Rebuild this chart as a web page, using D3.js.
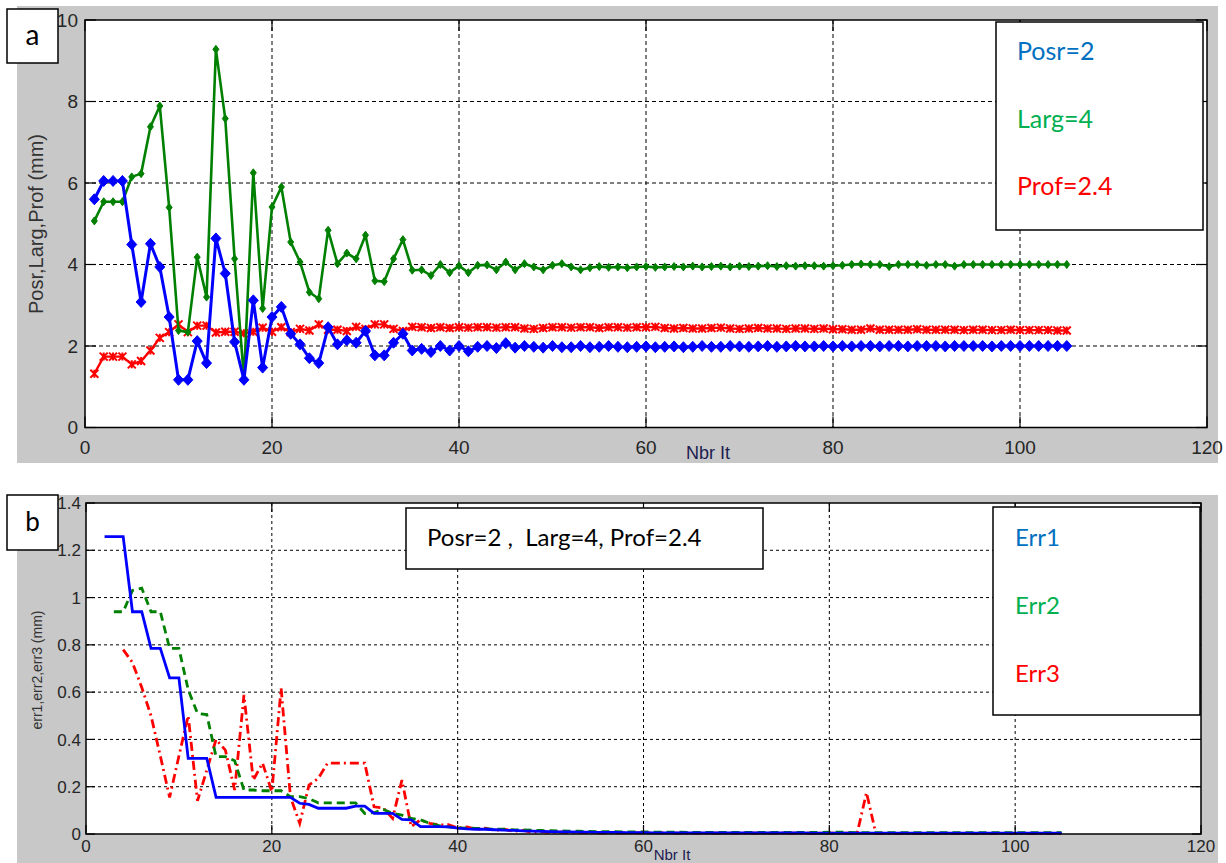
<!DOCTYPE html>
<html>
<head>
<meta charset="utf-8">
<script src="https://cdn.jsdelivr.net/npm/d3@7"></script>
<style>
  body { margin: 0; background: #ffffff; }
  svg { display: block; }
  text { font-family: "Liberation Sans", Arial, sans-serif; }
  .note { font-family: Lato, "Open Sans", "Liberation Sans", sans-serif; }
</style>
</head>
<body>
<svg id="fig" width="1226" height="863"></svg>
<script>
// ---------- Panel (a): parameter estimates per iteration ----------
const iterA = d3.range(1, 106);           // iterations 1..105

const posr = [5.6, 6.05, 6.05, 6.05, 4.49, 3.08, 4.51, 3.94, 2.71, 1.17,
  1.17, 2.12, 1.58, 4.64, 3.78, 2.1, 1.17, 3.12, 1.47, 2.71,
  2.96, 2.3, 2.04, 1.7, 1.58, 2.46, 2.04, 2.14, 2.08, 2.37,
  1.77, 1.77, 2.08, 2.3, 1.89, 1.93, 1.85, 2.0, 1.89, 2.0,
  1.87, 1.98, 2.0, 1.95, 2.07, 1.96, 2.0, 1.98, 1.96, 2.0,
  1.97, 1.97, 2.0, 1.97, 1.98, 2.0, 1.98, 1.97, 1.98, 1.99,
  1.97, 1.98, 1.99, 1.97, 1.98, 2.0, 1.98, 1.98, 2.0, 1.99,
  1.98, 1.99, 2.0, 1.98, 1.99, 2.0, 1.99, 1.99, 2.0, 1.99,
  2.0, 1.99, 2.0, 2.0, 1.99, 2.0, 2.0, 1.99, 2.0, 2.0,
  2.0, 1.99, 2.0, 2.0, 2.0, 2.0, 1.99, 2.0, 2.0, 2.0,
  2.0, 2.0, 2.0, 2.0, 2.0];

const larg = [5.07, 5.54, 5.54, 5.54, 6.15, 6.23, 7.38, 7.89, 5.4, 2.38,
  2.34, 4.18, 3.2, 9.28, 7.58, 4.14, 1.2, 6.25, 2.92, 5.41,
  5.9, 4.55, 4.06, 3.32, 3.16, 4.84, 4.02, 4.28, 4.14, 4.72,
  3.6, 3.58, 4.14, 4.61, 3.86, 3.87, 3.73, 4.0, 3.8, 3.97,
  3.8, 3.98, 3.99, 3.87, 4.06, 3.87, 4.02, 3.94, 3.87, 3.98,
  4.02, 3.94, 3.87, 3.92, 3.95, 3.93, 3.94, 3.92, 3.94, 3.95,
  3.93, 3.94, 3.95, 3.94, 3.96, 3.94, 3.95, 3.96, 3.94, 3.96,
  3.95, 3.96, 3.97, 3.95, 3.97, 3.96, 3.97, 3.97, 3.96, 3.97,
  3.98, 4.0, 4.01, 4.0, 4.0, 3.95, 4.0, 4.0, 4.0, 3.98,
  4.0, 4.0, 3.96, 4.0, 4.0, 4.0, 4.0, 4.0, 4.0, 4.0,
  4.0, 4.0, 4.0, 4.0, 4.0];

const prof = [1.32, 1.74, 1.74, 1.74, 1.55, 1.63, 1.89, 2.2, 2.34, 2.53,
  2.34, 2.5, 2.5, 2.33, 2.35, 2.35, 2.31, 2.35, 2.45, 2.35,
  2.46, 2.34, 2.42, 2.38, 2.53, 2.4, 2.4, 2.37, 2.47, 2.42,
  2.53, 2.53, 2.42, 2.37, 2.47, 2.46, 2.44, 2.46, 2.44, 2.46,
  2.45, 2.46, 2.46, 2.45, 2.46, 2.46, 2.43, 2.42, 2.44, 2.46,
  2.46, 2.45, 2.46, 2.46, 2.44, 2.46, 2.46, 2.45, 2.46, 2.46,
  2.47, 2.44, 2.43, 2.44, 2.43, 2.43, 2.44, 2.45, 2.43, 2.42,
  2.43, 2.44, 2.43, 2.43, 2.42, 2.43, 2.43, 2.42, 2.43, 2.41,
  2.41, 2.4, 2.4, 2.43, 2.4, 2.4, 2.4, 2.4, 2.41, 2.4,
  2.4, 2.4, 2.4, 2.39, 2.4, 2.4, 2.39, 2.39, 2.4, 2.39,
  2.39, 2.39, 2.39, 2.38, 2.38];

const ticksA_x = [0, 20, 40, 60, 80, 100, 120];
const ticksA_y = [0, 2, 4, 6, 8, 10];
const legendA = ["Posr=2", "Larg=4", "Prof=2.4"];

// ---------- Panel (b): errors per iteration ----------
const iterErr1 = d3.range(2, 106);
const iterErr2 = d3.range(3, 106);
const iterErr3 = d3.range(4, 106);

const err1 = [1.258, 1.258, 1.258, 0.94, 0.94, 0.785, 0.785, 0.66, 0.66, 0.32,
  0.32, 0.32, 0.155, 0.155, 0.155, 0.155, 0.155, 0.155, 0.155, 0.155,
  0.155, 0.13, 0.125, 0.109, 0.109, 0.109, 0.109, 0.118, 0.118, 0.087,
  0.087, 0.087, 0.062, 0.06, 0.031, 0.031, 0.031, 0.03, 0.025, 0.022,
  0.02, 0.02, 0.018, 0.016, 0.015, 0.013, 0.012, 0.011, 0.01, 0.009,
  0.009, 0.008, 0.008, 0.007, 0.007, 0.007, 0.006, 0.006, 0.006, 0.005,
  0.005, 0.005, 0.005, 0.005, 0.005, 0.005, 0.005, 0.005, 0.005, 0.005,
  0.005, 0.005, 0.005, 0.005, 0.005, 0.005, 0.004, 0.004, 0.004, 0.004,
  0.004, 0.004, 0.004, 0.004, 0.004, 0.004, 0.004, 0.004, 0.004, 0.004,
  0.004, 0.004, 0.004, 0.004, 0.004, 0.004, 0.004, 0.004, 0.004, 0.004,
  0.004, 0.004, 0.004, 0.004];

const err2 = [0.94, 0.94, 1.03, 1.04, 0.94, 0.94, 0.785, 0.785, 0.61, 0.51,
  0.505, 0.327, 0.327, 0.31, 0.186, 0.186, 0.183, 0.183, 0.183, 0.158,
  0.158, 0.15, 0.132, 0.132, 0.132, 0.132, 0.132, 0.087, 0.09, 0.104,
  0.087, 0.08, 0.066, 0.06, 0.045, 0.035, 0.03, 0.026, 0.025, 0.024,
  0.022, 0.02, 0.02, 0.018, 0.017, 0.016, 0.015, 0.014, 0.013, 0.012,
  0.012, 0.011, 0.01, 0.01, 0.01, 0.009, 0.009, 0.009, 0.008, 0.008,
  0.008, 0.008, 0.007, 0.007, 0.007, 0.007, 0.007, 0.007, 0.007, 0.007,
  0.007, 0.007, 0.007, 0.007, 0.007, 0.007, 0.007, 0.008, 0.008, 0.007,
  0.006, 0.006, 0.006, 0.006, 0.006, 0.006, 0.006, 0.006, 0.006, 0.006,
  0.006, 0.006, 0.006, 0.006, 0.006, 0.006, 0.006, 0.006, 0.006, 0.006,
  0.006, 0.006, 0.006];

const err3 = [0.78, 0.725, 0.62, 0.5, 0.33, 0.155, 0.33, 0.5, 0.14, 0.27,
  0.4, 0.355, 0.186, 0.588, 0.228, 0.3, 0.179, 0.616, 0.158, 0.045,
  0.207, 0.235, 0.3, 0.3, 0.3, 0.3, 0.3, 0.115, 0.11, 0.066,
  0.228, 0.031, 0.06, 0.045, 0.038, 0.04, 0.025, 0.03, 0.02, 0.025,
  0.015, 0.02, 0.012, 0.015, 0.008, 0.01, 0.006, 0.008, 0.007, 0.006,
  0.006, 0.005, 0.005, 0.005, 0.005, 0.005, 0.005, 0.005, 0.005, 0.004,
  0.004, 0.004, 0.004, 0.004, 0.004, 0.004, 0.004, 0.004, 0.004, 0.004,
  0.004, 0.004, 0.004, 0.004, 0.004, 0.004, 0.004, 0.004, 0.004, 0.004,
  0.175, 0.003, 0.003, 0.003, 0.003, 0.003, 0.003, 0.003, 0.003, 0.003,
  0.003, 0.003, 0.003, 0.003, 0.003, 0.003, 0.003, 0.003, 0.003, 0.003,
  0.003, 0.003];

const ticksB_x = [0, 20, 40, 60, 80, 100, 120];
const ticksB_y = [0, 0.2, 0.4, 0.6, 0.8, 1, 1.2, 1.4];
const legendB = ["Err1", "Err2", "Err3"];
const noteB = "Posr=2 ,  Larg=4, Prof=2.4";

const BLUE = "#0000ff", GREEN = "#008000", RED = "#ff0000";
const TXT_BLUE = "#0070c0", TXT_GREEN = "#00b050", TXT_RED = "#ff0000";

const svg = d3.select("#fig");

// Builds one MATLAB-style axes: grey figure panel, white plot box, dashed grid, inner ticks
function makeAxes(o) {
  const g = svg.append("g");
  g.append("rect").attr("x", o.panel[0]).attr("y", o.panel[1])
    .attr("width", o.panel[2]).attr("height", o.panel[3]).attr("fill", "#c8c8c8");
  const x = d3.scaleLinear().domain(o.xDomain).range([o.left, o.right]);
  const y = d3.scaleLinear().domain(o.yDomain).range([o.bottom, o.top]);
  g.append("rect").attr("x", o.left).attr("y", o.top)
    .attr("width", o.right - o.left).attr("height", o.bottom - o.top).attr("fill", "#fff");

  // grid
  const grid = g.append("g").attr("stroke", "#000").attr("stroke-width", 1)
    .attr("stroke-dasharray", o.gridDash).attr("fill", "none");
  o.xTicks.filter(t => t > o.xDomain[0] && t < o.xDomain[1]).forEach(t =>
    grid.append("line").attr("x1", x(t)).attr("x2", x(t)).attr("y1", o.top).attr("y2", o.bottom));
  o.yTicks.filter(t => t > o.yDomain[0] && t < o.yDomain[1]).forEach(t =>
    grid.append("line").attr("x1", o.left).attr("x2", o.right).attr("y1", y(t)).attr("y2", y(t)));

  const frame = g.append("g");
  const labels = g.append("g");
  return { g, x, y, frame, labels, o };
}

function finishAxes(ax) {
  const { x, y, o } = ax;
  const f = ax.frame.raise();
  const tl = o.tickLen;
  const ticks = f.append("g").attr("stroke", "#000").attr("stroke-width", 1.2);
  o.xTicks.forEach(t => {
    ticks.append("line").attr("x1", x(t)).attr("x2", x(t)).attr("y1", o.bottom).attr("y2", o.bottom - tl);
    ticks.append("line").attr("x1", x(t)).attr("x2", x(t)).attr("y1", o.top).attr("y2", o.top + tl);
  });
  o.yTicks.forEach(t => {
    ticks.append("line").attr("x1", o.left).attr("x2", o.left + tl).attr("y1", y(t)).attr("y2", y(t));
    ticks.append("line").attr("x1", o.right).attr("x2", o.right - tl).attr("y1", y(t)).attr("y2", y(t));
  });
  f.append("rect").attr("x", o.left).attr("y", o.top)
    .attr("width", o.right - o.left).attr("height", o.bottom - o.top)
    .attr("fill", "none").attr("stroke", "#000").attr("stroke-width", 1.5);

  const L = ax.labels.raise().attr("fill", "#262626").attr("font-size", o.tickFont);
  o.xTicks.forEach(t => L.append("text").attr("x", x(t)).attr("y", o.bottom + o.xLabelDy)
    .attr("text-anchor", "middle").text(d3.format("~g")(t)));
  o.yTicks.forEach(t => L.append("text").attr("x", o.left - o.yLabelDx).attr("y", y(t))
    .attr("dy", "0.36em").attr("text-anchor", "end").text(d3.format("~g")(t)));

  ax.g.append("text").attr("x", o.xTitle[0]).attr("y", o.xTitle[1]).attr("text-anchor", "middle")
    .attr("font-size", o.xTitle[2]).attr("fill", "#1c1c50").text("Nbr It");
  ax.g.append("text").attr("transform", `translate(${o.yTitle[0]},${o.yTitle[1]}) rotate(-90)`)
    .attr("text-anchor", "middle").attr("dy", "0.35em").attr("font-size", o.yTitle[2])
    .attr("fill", "#333").text(o.yTitleText);
}

function tagBox(x0, y0, w, h, label, size) {
  svg.append("rect").attr("x", x0).attr("y", y0).attr("width", w).attr("height", h)
    .attr("fill", "#fff").attr("stroke", "#000").attr("stroke-width", 1.5);
  svg.append("text").attr("class", "note").attr("x", x0 + w / 2).attr("y", y0 + h / 2)
    .attr("dy", "0.33em").attr("text-anchor", "middle").attr("font-size", size).text(label);
}

// ---------- Panel (a) ----------
const A = makeAxes({
  panel: [17, 6, 1201, 457], left: 85, right: 1207, top: 20, bottom: 427.5,
  xDomain: [0, 120], yDomain: [0, 10], xTicks: ticksA_x, yTicks: ticksA_y,
  gridDash: "4,3", tickLen: 11, tickFont: 19, xLabelDy: 26, yLabelDx: 7,
  xTitle: [708, 459, 18], yTitle: [36, 224, 20], yTitleText: "Posr,Larg,Prof (mm)"
});

const lineA = vals => d3.line().x((d, i) => A.x(iterA[i])).y(d => A.y(d))(vals);
const seriesA = [
  { v: prof, c: RED, w: 2.4, m: "x" },
  { v: larg, c: GREEN, w: 2.6, m: "s" },
  { v: posr, c: BLUE, w: 3, m: "d" }
];
seriesA.forEach(s => {
  A.g.append("path").attr("d", lineA(s.v)).attr("fill", "none")
    .attr("stroke", s.c).attr("stroke-width", s.w).attr("stroke-linejoin", "round");
  const mk = A.g.append("g");
  s.v.forEach((v, i) => {
    const px = A.x(iterA[i]), py = A.y(v);
    if (s.m === "d") {
      mk.append("path").attr("d", `M${px},${py - 5.5}L${px + 5},${py}L${px},${py + 5.5}L${px - 5},${py}Z`)
        .attr("fill", s.c).attr("stroke", s.c).attr("stroke-width", 1);
    } else if (s.m === "s") {
      mk.append("path").attr("d", `M${px},${py - 4}L${px + 3},${py}L${px},${py + 4}L${px - 3},${py}Z`)
        .attr("fill", s.c).attr("stroke", s.c).attr("stroke-width", 1);
    } else {
      mk.append("path").attr("d", `M${px - 4},${py - 4}L${px + 4},${py + 4}M${px - 4},${py + 4}L${px + 4},${py - 4}M${px},${py - 4}L${px},${py + 4}`)
        .attr("stroke", s.c).attr("stroke-width", 2).attr("fill", "none");
    }
  });
});
finishAxes(A);

// legend of panel (a)
svg.append("rect").attr("x", 996).attr("y", 22).attr("width", 207).attr("height", 208)
  .attr("fill", "#fff").attr("stroke", "#000").attr("stroke-width", 1.5);
[TXT_BLUE, TXT_GREEN, TXT_RED].forEach((c, i) =>
  svg.append("text").attr("class", "note").attr("x", 1017).attr("y", 60 + i * 67.5)
    .attr("font-size", 25).attr("fill", c).text(legendA[i]));
tagBox(7, 9, 51, 54, "a", 28);

// ---------- Panel (b) ----------
const B = makeAxes({
  panel: [17, 495, 1201, 368], left: 86, right: 1201, top: 503, bottom: 834,
  xDomain: [0, 120], yDomain: [0, 1.4], xTicks: ticksB_x, yTicks: ticksB_y,
  gridDash: "3,3", tickLen: 9, tickFont: 17, xLabelDy: 18, yLabelDx: 5,
  xTitle: [672, 860, 15], yTitle: [37, 670, 14], yTitleText: "err1,err2,err3 (mm)"
});

const seriesB = [
  { x: iterErr3, v: err3, c: RED, dash: "9,4,2,4" },
  { x: iterErr2, v: err2, c: GREEN, dash: "8,5" },
  { x: iterErr1, v: err1, c: BLUE, dash: null }
];
seriesB.forEach(s => {
  const p = d3.line().x((d, i) => B.x(s.x[i])).y(d => B.y(d))(s.v);
  B.g.append("path").attr("d", p).attr("fill", "none").attr("stroke", s.c)
    .attr("stroke-width", 2.8).attr("stroke-dasharray", s.dash);
});
finishAxes(B);

// note and legend of panel (b)
svg.append("rect").attr("x", 406).attr("y", 508).attr("width", 357).attr("height", 61)
  .attr("fill", "#fff").attr("stroke", "#000").attr("stroke-width", 1.5);
svg.append("text").attr("class", "note").attr("x", 427).attr("y", 546)
  .attr("font-size", 24).attr("fill", "#000").attr("xml:space", "preserve")
  .style("white-space", "pre").text(noteB);

svg.append("rect").attr("x", 993).attr("y", 507).attr("width", 207).attr("height", 208)
  .attr("fill", "#fff").attr("stroke", "#000").attr("stroke-width", 1.5);
[TXT_BLUE, TXT_GREEN, TXT_RED].forEach((c, i) =>
  svg.append("text").attr("class", "note").attr("x", 1015).attr("y", 546 + i * 68)
    .attr("font-size", 24).attr("fill", c).text(legendB[i]));
tagBox(7, 495, 51, 55, "b", 26);
</script>
</body>
</html>
